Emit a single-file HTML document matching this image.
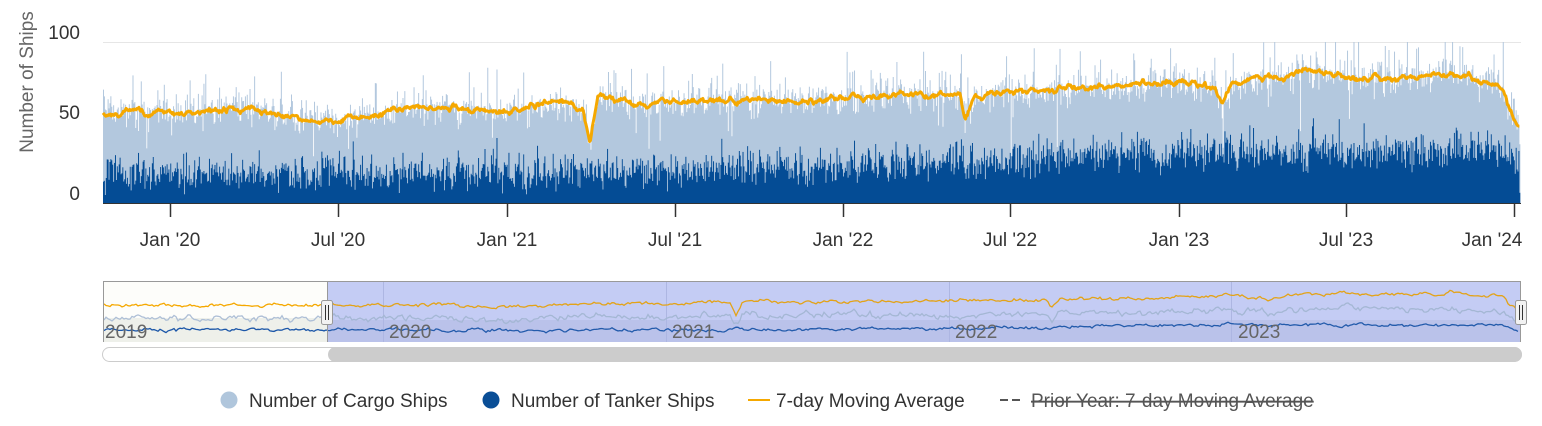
<!DOCTYPE html>
<html><head><meta charset="utf-8">
<style>
html,body{margin:0;padding:0;background:#fff;}
body{width:1542px;height:421px;overflow:hidden;font-family:"Liberation Sans",Arial,sans-serif;}
svg text{font-family:"Liberation Sans",Arial,sans-serif;}
</style></head><body>
<svg id="c" width="1542" height="421" xmlns="http://www.w3.org/2000/svg">
<rect width="1542" height="421" fill="#fff"/>
<line x1="103" y1="42.5" x2="1521" y2="42.5" stroke="#e6e6e6" stroke-width="1"/>
<g id="bars"></g>
<path id="ma" fill="none" stroke="#f5a800" stroke-width="3" stroke-linejoin="round"/>
<line x1="103" y1="203.5" x2="1521" y2="203.5" stroke="#333" stroke-width="1"/>
<g stroke="#333" stroke-width="1.5">
<line x1="170.5" y1="203" x2="170.5" y2="217"/><line x1="338.5" y1="203" x2="338.5" y2="217"/>
<line x1="507.5" y1="203" x2="507.5" y2="217"/><line x1="675.5" y1="203" x2="675.5" y2="217"/>
<line x1="843.5" y1="203" x2="843.5" y2="217"/><line x1="1010.5" y1="203" x2="1010.5" y2="217"/>
<line x1="1179.5" y1="203" x2="1179.5" y2="217"/><line x1="1346.5" y1="203" x2="1346.5" y2="217"/>
<line x1="1514.5" y1="203" x2="1514.5" y2="217"/>
</g>
<g font-size="19" fill="#333" text-anchor="middle">
<text x="170" y="246">Jan '20</text><text x="338" y="246">Jul '20</text>
<text x="507" y="246">Jan '21</text><text x="675" y="246">Jul '21</text>
<text x="843" y="246">Jan '22</text><text x="1010" y="246">Jul '22</text>
<text x="1179" y="246">Jan '23</text><text x="1346" y="246">Jul '23</text>
<text x="1492" y="246">Jan '24</text>
</g>
<g font-size="19" fill="#333" text-anchor="end">
<text x="80" y="39">100</text><text x="80" y="119">50</text><text x="80" y="200">0</text>
</g>
<text transform="translate(33,82) rotate(-90)" font-size="19" fill="#666" text-anchor="middle">Number of Ships</text>

<!-- navigator -->
<rect x="103" y="282" width="224" height="60" fill="#fdfdfa"/>
<rect x="103" y="318" width="224" height="24" fill="#eef0ea"/>
<rect x="327" y="282" width="1194" height="60" fill="#d2d6fb"/>
<rect x="327" y="320" width="1194" height="22" fill="#c6cbf0"/>
<g stroke="#b8bde6" stroke-width="1">
<line x1="383.5" y1="282" x2="383.5" y2="342"/><line x1="666.5" y1="282" x2="666.5" y2="342"/>
<line x1="949.5" y1="282" x2="949.5" y2="342"/><line x1="1231.5" y1="282" x2="1231.5" y2="342"/>
</g>
<path id="n1" fill="none" stroke="#f5a800" stroke-width="1.3"/>
<path id="n2" fill="none" stroke="#aebfd6" stroke-width="1.3"/>
<path id="n3" fill="none" stroke="#1b56a8" stroke-width="1.3"/>
<rect x="327" y="282" width="1194" height="60" fill="rgba(102,133,194,0.12)"/>
<g font-size="19" fill="#666">
<text x="105" y="338">2019</text><text x="389" y="338">2020</text><text x="672" y="338">2021</text>
<text x="955" y="338">2022</text><text x="1238" y="338">2023</text>
</g>
<line x1="103" y1="281.5" x2="1521" y2="281.5" stroke="#999" stroke-width="1"/>
<line x1="103.5" y1="281" x2="103.5" y2="342" stroke="#999" stroke-width="1"/>
<line x1="327.5" y1="281" x2="327.5" y2="342" stroke="#999" stroke-width="1"/>
<line x1="1520.5" y1="281" x2="1520.5" y2="342" stroke="#999" stroke-width="1"/>
<g>
<rect x="321.5" y="300.5" width="11" height="24" rx="2" fill="#f2f2f2" stroke="#999"/>
<line x1="325.5" y1="305" x2="325.5" y2="320" stroke="#333"/><line x1="328.5" y1="305" x2="328.5" y2="320" stroke="#333"/>
<rect x="1515.5" y="300.5" width="11" height="24" rx="2" fill="#f2f2f2" stroke="#999"/>
<line x1="1519.5" y1="305" x2="1519.5" y2="320" stroke="#333"/><line x1="1522.5" y1="305" x2="1522.5" y2="320" stroke="#333"/>
</g>
<rect x="102.5" y="347.5" width="1419" height="14" rx="7" fill="#fff" stroke="#ccc"/>
<rect x="328" y="347" width="1194" height="15" rx="7.5" fill="#cccccc"/>

<!-- legend -->
<circle cx="229" cy="400" r="8.5" fill="#b0c6dc"/>
<text x="249" y="407" font-size="19" fill="#333">Number of Cargo Ships</text>
<circle cx="491" cy="400" r="8.5" fill="#0a4e96"/>
<text x="511" y="407" font-size="19" fill="#333">Number of Tanker Ships</text>
<line x1="748" y1="400" x2="770" y2="400" stroke="#f5a800" stroke-width="2"/>
<text x="776" y="407" font-size="19" fill="#333">7-day Moving Average</text>
<line x1="1000" y1="400" x2="1024" y2="400" stroke="#555" stroke-width="2" stroke-dasharray="8,4"/>
<text x="1031" y="407" font-size="19" fill="#555" text-decoration="line-through">Prior Year: 7-day Moving Average</text>
</svg>
<script>
(function(){
var s=12345;function r(){s=(s*16807)%2147483647;return (s-1)/2147483646;}
function g(){return (r()+r()+r()-1.5)*2;}
var P=[[103,112],[170,113],[250,108],[300,120],[338,118],[420,108],[507,110],[560,103],[583,110],[590,145],[598,95],[640,105],[700,100],[843,100],[900,95],[960,95],[965,118],[975,95],[1010,92],[1100,88],[1179,80],[1215,88],[1222,105],[1232,85],[1260,80],[1310,70],[1346,78],[1400,78],[1440,72],[1490,80],[1503,88],[1510,112],[1521,132]];
var T=[[103,172],[507,173],[843,166],[1179,152],[1500,150],[1512,165],[1521,178]];
function interp(A,x){for(var i=1;i<A.length;i++){if(x<=A[i][0]){var a=A[i-1],b=A[i];var t=(x-a[0])/(b[0]-a[0]);return a[1]+(b[1]-a[1])*t;}}return A[A.length-1][1];}
var bars=document.getElementById('bars');
var w=0.9215,N=Math.floor((1521-103)/w);
var c1="",c2="",ma="",sm=0;
for(var d=0;d<N;d++){
 var x=103+d*w;
 var oy=interp(P,x);
 sm=sm*0.8+g()*0.2*6;
 var my=oy+sm;
 ma+=(d?"L":"M")+x.toFixed(2)+","+my.toFixed(1);
 var cy=oy+g()*8; if(r()<0.06)cy-=15+r()*20; if(r()<0.03)cy+=20+r()*25; if(cy<42)cy=42;
 var ty=interp(T,x)+g()*9; if(r()<0.05)ty-=12;if(ty>195)ty=195;
 if(cy>ty-5)cy=ty-5;
 c1+="M"+x.toFixed(2)+","+cy.toFixed(1)+"h1V"+ty.toFixed(1)+"h-1Z";
 c2+="M"+x.toFixed(2)+","+ty.toFixed(1)+"h1V203h-1Z";
}
bars.innerHTML='<path fill="#b3c8de" d="'+c1+'"/><path fill="#044c95" d="'+c2+'"/>';
document.getElementById('ma').setAttribute('d',ma);
var n1="",n2="",n3="",a1=0,a2=0,a3=0;
for(var x=104;x<=1519;x+=2){
 var mx=103+((x-100)/283*365-292)*w;
 var oy=mx<103?112:interp(P,mx);
 var ty=mx<103?172:interp(T,mx);
 a1=a1*0.6+g()*0.4*2;a2=a2*0.6+g()*0.4*3.5;a3=a3*0.6+g()*0.4*1.8;
 var y1=305+(oy-112)*0.3+a1;
 var y2=318+(oy-112)*0.25+a2;
 var y3=330+(ty-172)*0.25+a3;
 var p=(x==104?"M":"L")+x;
 n1+=p+","+y1.toFixed(1);n2+=p+","+y2.toFixed(1);n3+=p+","+y3.toFixed(1);
}
document.getElementById('n1').setAttribute('d',n1);
document.getElementById('n2').setAttribute('d',n2);
document.getElementById('n3').setAttribute('d',n3);
})();
</script>
</body></html>
